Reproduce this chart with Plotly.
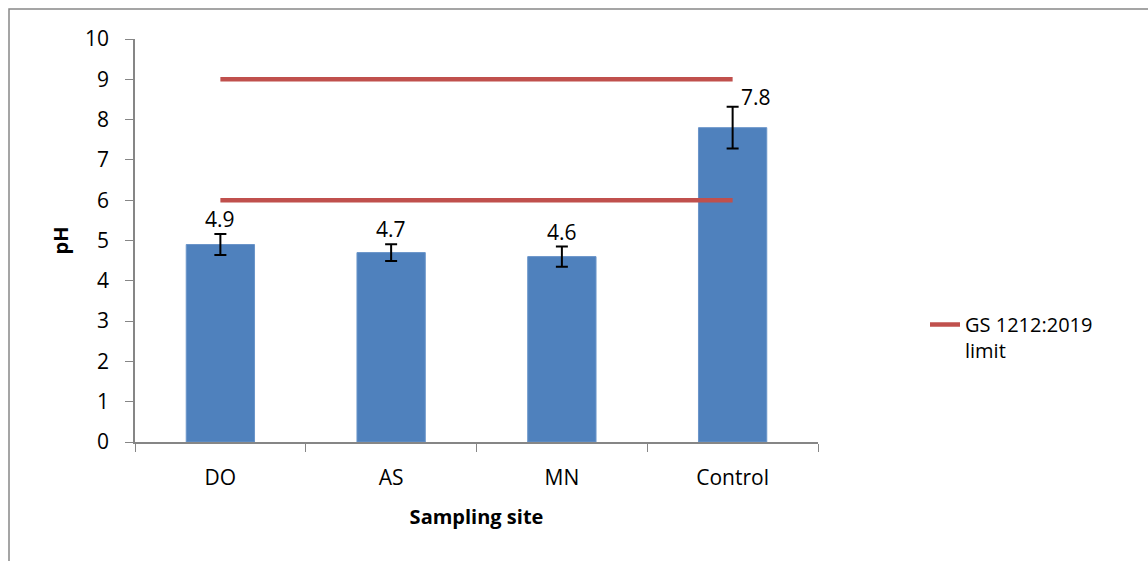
import plotly.graph_objects as go

sites = ["DO", "AS", "MN", "Control"]
ph_values = [4.9, 4.7, 4.6, 7.8]
ph_errors = [0.26, 0.21, 0.25, 0.52]
limit_low = [6, 6, 6, 6]
limit_high = [9, 9, 9, 9]
label_text = ["4.9", "4.7", "4.6", "7.8"]

FONT = "Open Sans"
L, R, T, B = 135, 330, 39, 119
W, H = 1148, 561
pw, ph = W - L - R, H - T - B

fig = go.Figure()
fig.add_trace(go.Bar(
    x=sites, y=ph_values, width=0.4,
    marker=dict(color="#4F81BD", line=dict(color="#6A95C9", width=1)),
    error_y=dict(type="data", array=ph_errors, color="black", thickness=2, width=6),
    showlegend=False,
))
fig.add_trace(go.Scatter(
    x=sites, y=limit_high, mode="lines",
    line=dict(color="#C0504D", width=4.5), showlegend=False,
))
fig.add_trace(go.Scatter(
    x=sites, y=limit_low, mode="lines",
    line=dict(color="#C0504D", width=4.5), name="GS 1212:2019<br>limit",
))

for i, (s, v, e, t) in enumerate(zip(sites, ph_values, ph_errors, label_text)):
    if i == len(sites) - 1:
        fig.add_annotation(x=s, y=v + e, text=t, showarrow=False,
                           xshift=23, yshift=10, font=dict(family=FONT, size=21, color="black"))
    else:
        fig.add_annotation(x=s, y=v + e, text=t, showarrow=False,
                           yshift=15, font=dict(family=FONT, size=21, color="black"))

fig.add_shape(type="rect", xref="paper", yref="paper",
              x0=(9 - L) / pw, x1=(W + 20 - L) / pw,
              y0=-(H + 20 - T - ph) / ph, y1=(ph + T - 9) / ph,
              line=dict(color="#888888", width=1.5))

fig.update_layout(
    width=W, height=H,
    margin=dict(l=L, r=R, t=T, b=B),
    plot_bgcolor="white", paper_bgcolor="white",
    font=dict(family=FONT, size=20, color="black"),
    legend=dict(x=(925 - L) / pw, y=(442 - 305) / ph, xanchor="left", yanchor="top",
                font=dict(family=FONT, size=20), bgcolor="rgba(0,0,0,0)",
                valign="top", tracegroupgap=0),
    xaxis=dict(
        title=dict(text="<b>Sampling site</b>", font=dict(family=FONT, size=20), standoff=20),
        showline=True, linecolor="#868686", linewidth=1.5,
        ticks="outside", tickson="boundaries", ticklen=8, tickcolor="#868686",
        showgrid=False, tickfont=dict(size=21), ticklabelstandoff=16,
    ),
    yaxis=dict(
        title=dict(text="<b>pH</b>", font=dict(family=FONT, size=20), standoff=11),
        range=[0, 10], dtick=1,
        showline=True, linecolor="#868686", linewidth=1.5,
        ticks="outside", ticklen=8, tickcolor="#868686",
        showgrid=False, zeroline=False, tickfont=dict(size=21), ticklabelstandoff=12,
    ),
)

fig.write_html("out.html", config={"displayModeBar": False},
               post_script="document.body.style.margin='0';")
